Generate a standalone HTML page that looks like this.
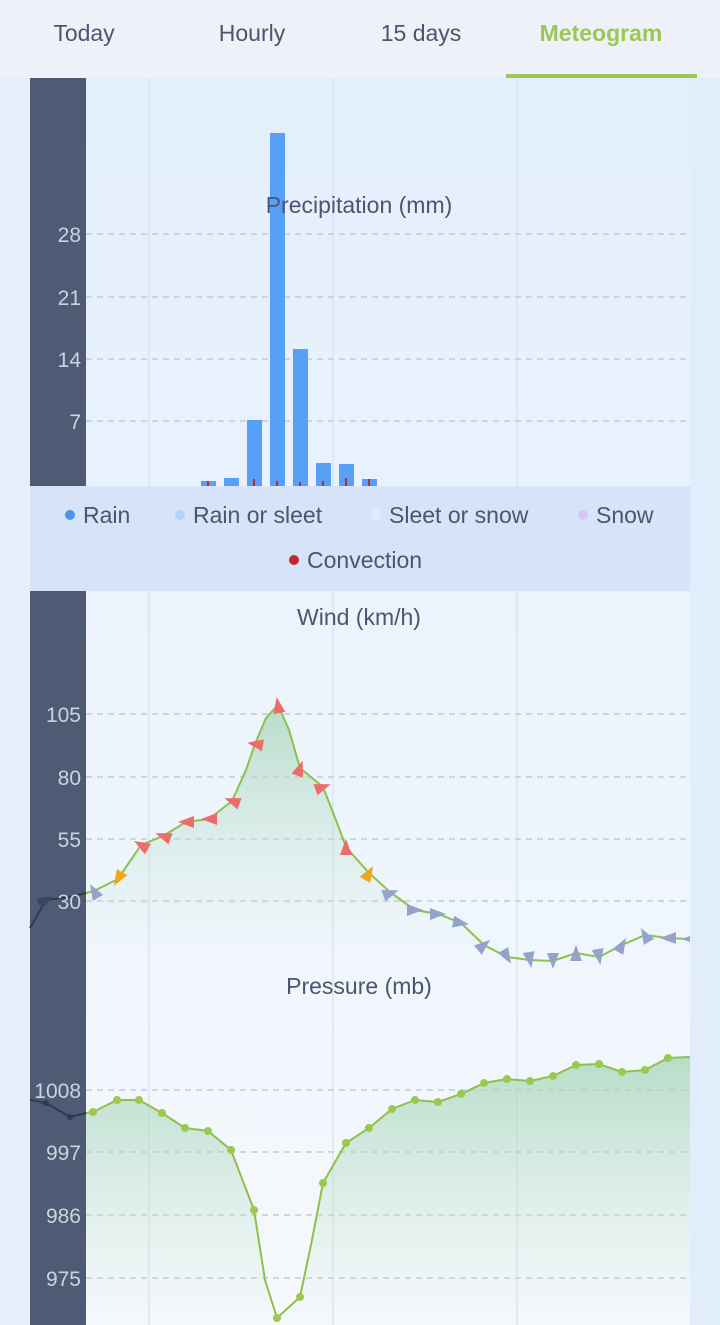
<!DOCTYPE html>
<html><head><meta charset="utf-8"><style>
html,body{margin:0;padding:0;width:720px;height:1325px;overflow:hidden;font-family:"Liberation Sans",sans-serif}
</style></head><body>
<svg width="720" height="1325" xmlns="http://www.w3.org/2000/svg" font-family="Liberation Sans, sans-serif">
<defs>
<linearGradient id="bg" x1="0" y1="0" x2="0" y2="1">
<stop offset="0" stop-color="#e2eefc"/><stop offset="1" stop-color="#f6f9fd"/></linearGradient>
<linearGradient id="gw" x1="0" y1="700" x2="0" y2="960" gradientUnits="userSpaceOnUse">
<stop offset="0" stop-color="#a9d6bb" stop-opacity="0.8"/><stop offset="1" stop-color="#cfe8da" stop-opacity="0"/></linearGradient>
<linearGradient id="gp" x1="0" y1="1055" x2="0" y2="1325" gradientUnits="userSpaceOnUse">
<stop offset="0" stop-color="#a9d6bb" stop-opacity="0.8"/><stop offset="1" stop-color="#cfe8da" stop-opacity="0.05"/></linearGradient>
<clipPath id="pc"><rect x="86" y="78" width="604" height="1247"/></clipPath>
</defs>
<rect width="720" height="1325" fill="url(#bg)"/>
<rect x="690" y="78" width="30" height="1247" fill="#e1edfb"/>
<rect x="0" y="78" width="30" height="1247" fill="#e4effb"/>
<rect width="720" height="78" fill="#eef2f8"/>
<g font-size="23" fill="#4a5670" text-anchor="middle">
<text x="84" y="41">Today</text><text x="252" y="41">Hourly</text><text x="421" y="41">15 days</text>
<text x="601" y="41" fill="#9cc655" font-weight="bold">Meteogram</text></g>
<rect x="506" y="74" width="191" height="4" fill="#9cc655"/>
<g stroke="#d3dce8" stroke-width="1"><line x1="149" y1="78" x2="149" y2="1325"/><line x1="333" y1="78" x2="333" y2="1325"/><line x1="517" y1="78" x2="517" y2="1325"/></g>
<g stroke="#c3cad6" stroke-width="1.5" stroke-dasharray="6,5">
<line x1="86" y1="234" x2="690" y2="234"/><line x1="86" y1="297" x2="690" y2="297"/><line x1="86" y1="359" x2="690" y2="359"/><line x1="86" y1="421" x2="690" y2="421"/>
<line x1="86" y1="714" x2="690" y2="714"/><line x1="86" y1="777" x2="690" y2="777"/><line x1="86" y1="839" x2="690" y2="839"/><line x1="86" y1="901" x2="690" y2="901"/>
<line x1="86" y1="1090" x2="690" y2="1090"/><line x1="86" y1="1152" x2="690" y2="1152"/><line x1="86" y1="1215" x2="690" y2="1215"/><line x1="86" y1="1278" x2="690" y2="1278"/>
</g>
<g fill="#56a0f6">
<rect x="201" y="481" width="15" height="5"/><rect x="224" y="478" width="15" height="8"/>
<rect x="247" y="420" width="15" height="66"/><rect x="270" y="133" width="15" height="353"/>
<rect x="293" y="349" width="15" height="137"/><rect x="316" y="463" width="15" height="23"/>
<rect x="339" y="464" width="15" height="22"/><rect x="362" y="479" width="15" height="7"/></g>
<g stroke="#b03040" stroke-width="2"><line x1="208" y1="481" x2="208" y2="486"/><line x1="254" y1="479" x2="254" y2="486"/><line x1="277" y1="481" x2="277" y2="486"/><line x1="300" y1="482" x2="300" y2="486"/><line x1="323" y1="481" x2="323" y2="486"/><line x1="346" y1="478" x2="346" y2="486"/><line x1="369" y1="479" x2="369" y2="486"/></g>
<text x="359" y="213" font-size="23" fill="#4a5670" text-anchor="middle">Precipitation (mm)</text>
<rect x="30" y="486" width="660" height="105" fill="#d6e3f8"/>
<g font-size="23" fill="#4a5670">
<circle cx="70" cy="515" r="5" fill="#4b95ef"/><text x="83" y="523">Rain</text>
<circle cx="180" cy="515" r="5" fill="#b2d3fb"/><text x="193" y="523">Rain or sleet</text>
<circle cx="376" cy="515" r="5" fill="#e3eefd"/><text x="389" y="523">Sleet or snow</text>
<circle cx="583" cy="515" r="5" fill="#d8c6f3"/><text x="596" y="523">Snow</text>
<circle cx="294" cy="560" r="5" fill="#c3282c"/><text x="307" y="568">Convection</text>
<text x="359" y="625" text-anchor="middle">Wind (km/h)</text>
<text x="359" y="994" text-anchor="middle">Pressure (mb)</text></g>
<polygon fill="url(#gw)" points="86,960 86,893 94,891 118,879 141,845 163,836 186,822 209,819 232,801 246,770 255,744 266,718 278,705 289,730 300,768 323,787 334,815 346,847 369,873 391,893 415,910 438,914 461,923 484,945 507,957 530,960 553,961 576,953 599,957 622,945 645,935 668,938 690,939 690,960"/>
<polyline fill="none" stroke="#8fc04a" stroke-width="2" points="86,893 94,891 118,879 141,845 163,836 186,822 209,819 232,801 246,770 255,744 266,718 278,705 289,730 300,768 323,787 334,815 346,847 369,873 391,893 415,910 438,914 461,923 484,945 507,957 530,960 553,961 576,953 599,957 622,945 645,935 668,938 690,939"/>
<polygon fill="url(#gp)" points="86,1325 86,1113 93,1112 117,1100 139,1100 162,1113 185,1128 208,1131 231,1150 254,1210 265,1280 277,1318 300,1297 312,1240 323,1183 346,1143 369,1128 392,1109 415,1100 438,1102 461,1094 484,1083 507,1079 530,1081 553,1076 576,1065 599,1064 622,1072 645,1070 668,1058 690,1057 690,1325"/>
<polyline fill="none" stroke="#8fc04a" stroke-width="2" points="86,1113 93,1112 117,1100 139,1100 162,1113 185,1128 208,1131 231,1150 254,1210 265,1280 277,1318 300,1297 312,1240 323,1183 346,1143 369,1128 392,1109 415,1100 438,1102 461,1094 484,1083 507,1079 530,1081 553,1076 576,1065 599,1064 622,1072 645,1070 668,1058 690,1057"/>
<g fill="#9bc94f">
<circle cx="93" cy="1112" r="4"/><circle cx="117" cy="1100" r="4"/><circle cx="139" cy="1100" r="4"/><circle cx="162" cy="1113" r="4"/><circle cx="185" cy="1128" r="4"/><circle cx="208" cy="1131" r="4"/><circle cx="231" cy="1150" r="4"/><circle cx="254" cy="1210" r="4"/><circle cx="277" cy="1318" r="4"/><circle cx="300" cy="1297" r="4"/><circle cx="323" cy="1183" r="4"/><circle cx="346" cy="1143" r="4"/><circle cx="369" cy="1128" r="4"/><circle cx="392" cy="1109" r="4"/><circle cx="415" cy="1100" r="4"/><circle cx="438" cy="1102" r="4"/><circle cx="461" cy="1094" r="4"/><circle cx="484" cy="1083" r="4"/><circle cx="507" cy="1079" r="4"/><circle cx="530" cy="1081" r="4"/><circle cx="553" cy="1076" r="4"/><circle cx="576" cy="1065" r="4"/><circle cx="599" cy="1064" r="4"/><circle cx="622" cy="1072" r="4"/><circle cx="645" cy="1070" r="4"/><circle cx="668" cy="1058" r="4"/></g>
<g clip-path="url(#pc)">
<polygon points="-8,-6 8,0 -8,6" fill="#93a3cc" transform="translate(94,891) rotate(-120)"/>
<polygon points="-8,-6 8,0 -8,6" fill="#f2a516" transform="translate(118,879) rotate(120)"/>
<polygon points="-8,-6 8,0 -8,6" fill="#ee6b6b" transform="translate(141,845) rotate(-150)"/>
<polygon points="-8,-6 8,0 -8,6" fill="#ee6b6b" transform="translate(163,836) rotate(-160)"/>
<polygon points="-8,-6 8,0 -8,6" fill="#ee6b6b" transform="translate(186,822) rotate(180)"/>
<polygon points="-8,-6 8,0 -8,6" fill="#ee6b6b" transform="translate(209,819) rotate(180)"/>
<polygon points="-8,-6 8,0 -8,6" fill="#ee6b6b" transform="translate(232,801) rotate(-160)"/>
<polygon points="-8,-6 8,0 -8,6" fill="#ee6b6b" transform="translate(255,744) rotate(-170)"/>
<polygon points="-8,-6 8,0 -8,6" fill="#ee6b6b" transform="translate(278,705) rotate(-100)"/>
<polygon points="-8,-6 8,0 -8,6" fill="#ee6b6b" transform="translate(300,768) rotate(-70)"/>
<polygon points="-8,-6 8,0 -8,6" fill="#ee6b6b" transform="translate(323,787) rotate(-20)"/>
<polygon points="-8,-6 8,0 -8,6" fill="#ee6b6b" transform="translate(346,847) rotate(-90)"/>
<polygon points="-8,-6 8,0 -8,6" fill="#f2a516" transform="translate(369,873) rotate(-60)"/>
<polygon points="-8,-6 8,0 -8,6" fill="#93a3cc" transform="translate(391,893) rotate(-20)"/>
<polygon points="-8,-6 8,0 -8,6" fill="#93a3cc" transform="translate(415,910) rotate(0)"/>
<polygon points="-8,-6 8,0 -8,6" fill="#93a3cc" transform="translate(438,914) rotate(0)"/>
<polygon points="-8,-6 8,0 -8,6" fill="#93a3cc" transform="translate(461,923) rotate(10)"/>
<polygon points="-8,-6 8,0 -8,6" fill="#93a3cc" transform="translate(484,945) rotate(-40)"/>
<polygon points="-8,-6 8,0 -8,6" fill="#93a3cc" transform="translate(507,957) rotate(60)"/>
<polygon points="-8,-6 8,0 -8,6" fill="#93a3cc" transform="translate(530,960) rotate(80)"/>
<polygon points="-8,-6 8,0 -8,6" fill="#93a3cc" transform="translate(553,961) rotate(90)"/>
<polygon points="-8,-6 8,0 -8,6" fill="#93a3cc" transform="translate(576,953) rotate(-90)"/>
<polygon points="-8,-6 8,0 -8,6" fill="#93a3cc" transform="translate(599,957) rotate(80)"/>
<polygon points="-8,-6 8,0 -8,6" fill="#93a3cc" transform="translate(622,945) rotate(-60)"/>
<polygon points="-8,-6 8,0 -8,6" fill="#93a3cc" transform="translate(645,935) rotate(-120)"/>
<polygon points="-8,-6 8,0 -8,6" fill="#93a3cc" transform="translate(668,938) rotate(180)"/>
<polygon points="-8,-6 8,0 -8,6" fill="#93a3cc" transform="translate(690,939) rotate(180)"/>
</g>
<rect x="30" y="78" width="56" height="408" fill="#4f5b74"/>
<rect x="30" y="591" width="56" height="734" fill="#4f5b74"/>
<polyline fill="none" stroke="#2f3a50" stroke-width="2" points="30,928 46,900 70,897 86,893"/>
<polygon points="-8,-6 8,0 -8,6" fill="#3a4660" transform="translate(46,900) rotate(-30)"/>
<polyline fill="none" stroke="#2f3a50" stroke-width="2" points="30,1100 46,1103 70,1117 86,1113"/>
<circle cx="46" cy="1103" r="3" fill="#2f3a50"/><circle cx="70" cy="1117" r="3" fill="#2f3a50"/>
<g font-size="21" fill="#ccd3df" text-anchor="end">
<text x="81" y="242">28</text><text x="81" y="305">21</text><text x="81" y="367">14</text><text x="81" y="429">7</text>
<text x="81" y="722">105</text><text x="81" y="785">80</text><text x="81" y="847">55</text><text x="81" y="909">30</text>
<text x="81" y="1098">1008</text><text x="81" y="1160">997</text><text x="81" y="1223">986</text><text x="81" y="1286">975</text>
</g>
</svg>
</body></html>
